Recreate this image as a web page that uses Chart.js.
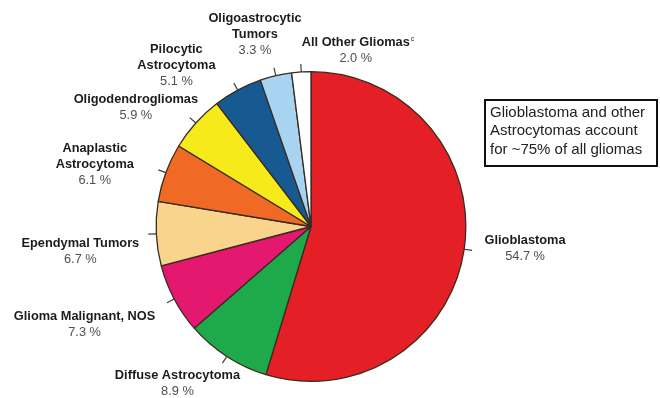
<!DOCTYPE html>
<html>
<head>
<meta charset="utf-8">
<script src="https://cdn.jsdelivr.net/npm/chart.js@4/dist/chart.umd.min.js"></script>
<style>
  html, body { margin: 0; padding: 0; background: #ffffff; }
  #wrap { width: 660px; height: 398px; position: relative; }
</style>
</head>
<body>
<div id="wrap"><canvas id="pie" width="660" height="398"></canvas></div>
<script>
// Glioma subtypes, clockwise from 12 o'clock
const categories = [
  ['Glioblastoma'],
  ['Diffuse Astrocytoma'],
  ['Glioma Malignant, NOS'],
  ['Ependymal Tumors'],
  ['Anaplastic', 'Astrocytoma'],
  ['Oligodendrogliomas'],
  ['Pilocytic', 'Astrocytoma'],
  ['Oligoastrocytic', 'Tumors'],
  ['All Other Gliomas']
];
const percents = [54.7, 8.9, 7.3, 6.7, 6.1, 5.9, 5.1, 3.3, 2.0];
const footnotes = ['', '', '', '', '', '', '', '', 'c'];
const sliceColors = ['#E51F26', '#1EA94B', '#E4186E', '#F8D48C', '#F06A25',
                     '#F6EA1B', '#175A91', '#A9D4F1', '#FFFFFF'];
const calloutLines = ['Glioblastoma and other', 'Astrocytomas account', 'for ~75% of all gliomas'];

// Tick marks on each slice and its label (name lines + percent)
const sliceLabels = {
  id: 'sliceLabels',
  afterDatasetsDraw(chart, args, opts) {
    const ctx = chart.ctx;
    const arcs = chart.getDatasetMeta(0).data;
    ctx.save();
    arcs.forEach((arc, i) => {
      const mid = (arc.startAngle + arc.endAngle) / 2;
      const r = arc.outerRadius;
      const cx = arc.x, cy = arc.y;
      const x0 = cx + Math.cos(mid) * r, y0 = cy + Math.sin(mid) * r;
      const x1 = cx + Math.cos(mid) * (r + opts.tickLength);
      const y1 = cy + Math.sin(mid) * (r + opts.tickLength);
      ctx.strokeStyle = '#3c3c3c';
      ctx.lineWidth = 1.2;
      ctx.beginPath();
      ctx.moveTo(x0, y0);
      ctx.lineTo(x1, y1);
      ctx.stroke();

      const lines = categories[i].map(t => ({ text: t, bold: true }));
      lines.push({ text: percents[i].toFixed(1) + ' %', bold: false });
      const nudge = opts.nudge[i];
      const bx = x1 + nudge[0];
      const by = y1 + nudge[1];
      const lh = opts.lineHeight;
      const top = by - (lines.length - 1) * lh / 2;
      ctx.textAlign = 'center';
      ctx.textBaseline = 'middle';
      lines.forEach((ln, k) => {
        ctx.font = (ln.bold ? 'bold ' : '') + opts.fontSize + 'px "Liberation Sans", Arial, sans-serif';
        ctx.fillStyle = ln.bold ? '#1c1c1c' : '#4f4f4f';
        const y = top + k * lh;
        ctx.fillText(ln.text, bx, y);
        if (ln.bold && k === categories[i].length - 1 && footnotes[i]) {
          const w = ctx.measureText(ln.text).width;
          ctx.font = '7px "Liberation Sans", Arial, sans-serif';
          ctx.textAlign = 'left';
          ctx.fillText(footnotes[i], bx + w / 2 + 1, y - 4);
          ctx.textAlign = 'center';
        }
      });
    });
    ctx.restore();
  }
};

// Boxed note on the right
const calloutBox = {
  id: 'calloutBox',
  afterDraw(chart, args, opts) {
    const ctx = chart.ctx;
    ctx.save();
    ctx.strokeStyle = '#111111';
    ctx.lineWidth = 2;
    ctx.strokeRect(opts.x, opts.y, opts.w, opts.h);
    ctx.fillStyle = '#222222';
    ctx.font = '15px "Liberation Sans", Arial, sans-serif';
    ctx.textAlign = 'left';
    ctx.textBaseline = 'middle';
    calloutLines.forEach((t, k) => ctx.fillText(t, opts.x + 5, opts.y + 12.5 + k * 18.5));
    ctx.restore();
  }
};

new Chart(document.getElementById('pie'), {
  type: 'pie',
  data: {
    labels: categories.map(c => c.join(' ')),
    datasets: [{
      data: percents,
      backgroundColor: sliceColors,
      borderColor: '#3a2a22',
      borderWidth: 1.3
    }]
  },
  options: {
    responsive: false,
    animation: false,
    layout: { padding: { top: 71, bottom: 16, left: 155.5, right: 193.5 } },
    plugins: {
      legend: { display: false },
      tooltip: { enabled: false },
      sliceLabels: {
        tickLength: 8,
        fontSize: 12.8,
        lineHeight: 16,
        nudge: [[53, -2], [-45, 20], [-82.5, 22], [-68, 17], [-63.5, -5.5],
                [-54, -10], [-57.5, -18], [-19, -33.5], [55, -13]]
      },
      calloutBox: { x: 485, y: 100, w: 172, h: 66 }
    }
  },
  plugins: [sliceLabels, calloutBox]
});
</script>
</body>
</html>
